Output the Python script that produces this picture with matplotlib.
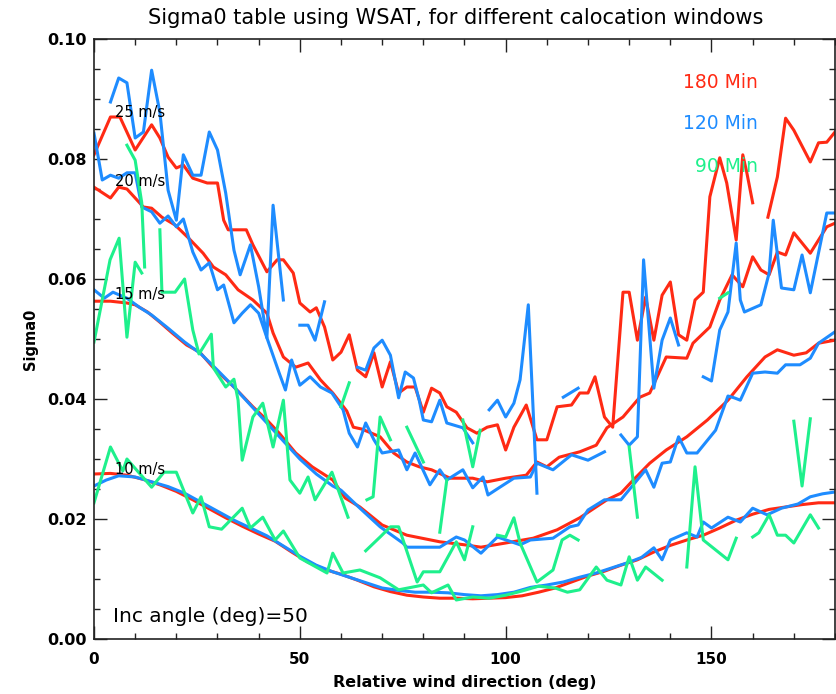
import numpy as np
import matplotlib
matplotlib.use('Agg')
import matplotlib.pyplot as plt
from matplotlib.ticker import MultipleLocator, FormatStrFormatter

# Sigma0 values in units of 1e-3 as (deg, value) points
# None = gap in the line

# ---------------- 180 Min (red) ----------------
red10 = [(0,27.5),(4,27.6),(8,27.3),(12,26.6),(16,25.7),(20,24.6),(24,23.2),(28,21.7),(32,20.2),(36,18.8),
         (40,17.5),(44,16.3),(48,14.5),(52,12.8),(56,11.6),(60,10.8),(64,9.8),(68,8.7),(72,7.9),(76,7.3),
         (80,7.0),(84,6.8),(88,6.8),(92,6.7),(96,6.8),(100,6.9),(104,7.2),(108,7.8),(112,8.5),(116,9.5),
         (120,10.5),(124,11.3),(128,12.3),(132,13.2),(136,14.5),(140,15.6),(144,16.5),(148,17.3),(152,18.5),
         (156,19.8),(160,20.8),(164,21.6),(168,22.0),(172,22.4),(176,22.7),(180,22.7)]
red15 = [(0,56.3),(4,56.3),(8,56.0),(10,55.7),(13,54.5),(16,52.8),(19,51.0),(22.5,49.0),(25.7,47.8),(29,45.2),
         (34,42.0),(38.6,38.7),(42,36.5),(45,34.3),(49,31.0),(53,28.7),(58,26.5),(61,23.5),(64.6,22.0),(70,19.0),
         (76,17.3),(84,16.2),(90,15.7),(94,15.3),(100,16.0),(106.7,16.8),(112.5,18.2),(118,20.2),(124.6,23.2),
         (128,24.3),(131,26.5),(135,29.3),(139,31.5),(144,33.7),(149,36.5),(154,39.8),(158.6,43.7),(163,47.0),
         (166,48.2),(170,47.3),(173,47.7),(176,49.3),(180,49.8)]
red20 = [(0,75.3),(4,73.5),(6,75.3),(8,75.0),(12,72.0),(14,71.8),(16.5,70.3),(19.7,69.0),(23,66.8),(26.5,64.3),
         (29,62.0),(32,60.7),(35,58.2),(38.6,56.5),(42,54.3),(43.5,51.0),(46,47.0),(49,45.3),(52,46.0),(55,43.2),
         (58,41.0),(61.4,38.0),(63,35.3),(65,35.0),(69.5,33.7),(72.8,31.0),(76,29.5),(79,28.7),(82,28.2),
         (86.5,26.8),(92,26.8),(95.5,26.2),(100,26.8),(105,27.3),(107.6,29.5),(110,28.7),(113,30.3),(118,31.2),
         (122,32.3),(124.6,35.2),(128.5,37.0),(132.6,40.3),(135,41.0),(139,47.0),(144,46.8),(145.5,49.3),
         (149.6,52.0),(152,56.5),(155,60.7),(157.6,58.7),(160,63.7),(162,61.5),(164,60.7),(166,64.5),(168,64.0),
         (170,67.7),(174,64.3),(178,68.7),(180,69.3)]
red25 = [(0,80.7),(4,87.0),(6.3,87.0),(10,81.5),(14,85.7),(16,83.5),(18,80.3),(20,78.5),(21.7,79.0),(24,76.8),
         (27.5,76.0),(30,76.0),(31.5,69.8),(32.6,68.2),(37,68.2),(38.6,65.7),(42,61.2),(44.5,63.2),(46,63.2),
         (48.4,61.0),(50,56.0),(52.5,54.5),(54,55.2),(56,52.0),(58,46.5),(60,47.8),(62,50.7),(64,44.8),(66,43.7),
         (68,47.7),(70,42.0),(72,46.2),(74,41.0),(76,42.0),(78,42.0),(80,37.8),(82,41.8),(84,41.0),(85.7,38.7),
         (88,37.8),(90.6,35.2),(93,34.3),(95.5,35.3),(98,35.7),(100,31.5),(102,35.3),(105,39.0),(107.6,33.2),
         (110,33.2),(112.5,38.7),(116,39.0),(118,41.0),(120,41.0),(121.7,43.7),(124,37.0),(126,35.3),(128.5,57.8),
         (130,57.8),(132,49.8),(134,57.0),(136,49.8),(138,57.3),(140,59.5),(142,50.7),(144,49.8),(146,56.5),
         (148,57.8),(149.6,73.7),(152,80.2),(153.7,76.0),(156,66.5),(157.6,80.7),(158.5,78.0),(160,72.7),None,
         (163.7,70.3),(166,77.0),(168,86.8),(170,84.8),(174,79.5),(176,82.7),(178,82.8),(180,84.5)]

# ---------------- 120 Min (blue) ----------------
blue10 = [(0,25.5),(3,26.5),(6,27.2),(10,27.0),(14,26.2),(18,25.4),(22,24.3),(26,22.8),(30,21.3),(34,19.8),
          (38,18.5),(42,17.2),(46,15.5),(50,13.8),(54,12.3),(58,11.2),(62,10.3),(66,9.4),(70,8.5),(74,8.1),
          (78,7.8),(82,7.8),(86,7.7),(90,7.4),(94,7.2),(98,7.4),(102,7.8),(106,8.6),(110,9.0),(114,9.5),
          (118,10.3),(122,11.0),(126,11.9),(130,12.8),(133,13.6),(136,15.2),(138,13.2),(140,16.5),(144,17.7),
          (146.5,17.0),(148,19.5),(150,18.5),(154,20.3),(157,19.5),(160,21.8),(163.5,20.7),(167,21.8),(171,22.5),
          (174,23.7),(177,24.2),(180,24.5)]
blue15 = [(0,58.2),(2.5,56.8),(4.6,57.8),(8,56.8),(11,55.3),(14,54.0),(18,51.8),(22,49.5),(26,47.5),(30,44.8),
          (34,42.0),(38,39.0),(42,36.0),(46,33.0),(50,30.0),(54,27.5),(58,25.5),(60,24.8),(64.6,21.8),(69.5,18.7),
          (75,16.0),(76,15.3),(84,15.3),(88,17.0),(90,16.5),(94,14.3),(98,17.0),(103.5,15.7),(106,16.5),
          (111.5,16.8),(115.6,18.7),(117.6,19.0),(120,21.5),(124,23.2),(128,23.2),(131,25.7),(134,28.2),
          (136,25.3),(138,29.3),(140,29.5),(142,33.7),(144,31.0),(146.5,31.0),(151,34.8),(154,40.5),(155.5,40.2),
          (157,39.8),(160,44.3),(163,44.5),(166,44.3),(168,45.7),(171.5,45.7),(174,46.8),(176,49.3),(180,51.2)]
blue20 = [(0,84.3),(2,76.5),(4,77.3),(6,76.8),(8,77.7),(10,77.7),(11.6,72.0),(14,71.2),(16,69.3),(18,70.5),
          (20,68.7),(21.7,70.0),(24,64.5),(26,61.5),(28,62.7),(30,58.2),(31.5,59.0),(34,52.7),(36,54.3),(38,55.7),
          (40,54.3),(42,50.2),(45,44.3),(46.5,41.5),(48,46.5),(50,42.3),(52.5,43.7),(55,42.0),(57.8,41.0),
          (60.5,38.2),(62,34.3),(64,32.0),(66,36.0),(68,33.2),(70,31.0),(74,31.5),(76,28.2),(78,31.0),(81.6,25.7),
          (84,28.2),(85.7,26.5),(89.6,28.2),(92,25.2),(94.5,27.0),(95.7,24.0),(98.6,25.3),(102,26.8),(106,27.0),
          (107.6,29.3),(111.5,28.2),(116,30.7),(120,29.8),(124,31.2),None,(128,34.0),(130,32.3),(132,33.7),
          (133.5,63.2),(136,41.8),(138,49.8),(140,53.5),(142,49.0),None,(148,43.7),(150,43.0),(152,51.5),
          (154,54.5),(156,66.0),(157,56.5),(158,54.5),(162,55.7),(164,61.0),(165,69.8),(167,58.5),(170,58.2),
          (172,64.0),(174,57.7),(178,71.0),(180,71.0)]
blue25 = [(4,89.5),(6,93.5),(8,92.7),(10,83.5),(12,84.5),(14,94.8),(16,87.8),(18,74.8),(20,69.8),(21.7,80.7),
          (24,77.3),(26,77.3),(28,84.5),(30,81.5),(32,74.3),(34,64.8),(35.5,60.7),(38,65.7),(40,58.7),(42,50.2),
          (43.5,72.3),(46,56.5),None,(50,52.3),(52,52.3),(53.7,49.8),(56,56.2),None,(64,45.3),(66,44.8),(68,48.5),
          (70,49.8),(72,47.3),(74,40.2),(75.6,44.5),(77.6,43.5),(79,39.8),(80,36.5),(82,36.2),(84,39.8),(85.7,36.0),
          (89.6,35.2),(92,32.7),None,(96,38.2),(98,39.8),(100,37.0),(102,39.3),(103.5,43.2),(105.5,55.7),
          (107.6,24.3),None,(114,40.3),(117.6,41.8)]

# ---------------- 90 Min (green) ----------------
green10 = [(0,22.7),(4,32.0),(7,28.0),(8,30.0),(14,25.3),(17,27.8),(20,27.8),(24,21.0),(26,23.7),(28,18.7),
           (31,18.3),(36,21.8),(38,18.5),(41,20.3),(44,16.5),(46,18.0),(50,13.5),(56.6,11.0),(58,14.3),(60.5,11.0),
           (64.6,11.5),(69.5,10.2),(74,8.2),(80,9.0),(82,7.7),(86,9.0),(88,6.5),(92,7.0),(96,6.8),(100,7.3),
           (104,8.0),(108,8.8),(112,8.5),(115,7.8),(118,8.2),(122,12.0),(124.6,9.8),(128,9.0),(130,13.7),
           (132,9.8),(134,12.0),(138,9.8),None,(144,12.0),(146,28.7),(148,16.5),(154,13.2),(156,16.8),None,
           (160,17.0),(161.5,17.7),(164,20.7),(166,17.3),(168,17.3),(170,16.0),(174,20.7),(176,18.5)]
green15 = [(0,49.5),(3.9,63.2),(6.1,66.8),(8,50.3),(10,62.8),(11.6,61.0),None,(16,68.2),(16.5,57.8),(19.7,57.8),
           (22,60.0),(24,51.5),(25.5,47.5),(28.5,50.8),(29,45.2),(32,42.0),(34,43.3),(35,39.8),(36,29.8),
           (38.6,37.0),(41,39.3),(43.5,32.0),(46,39.8),(47.6,26.5),(50,24.3),(52,27.0),(53.7,23.2),(57.8,27.8),
           (61.7,20.3),None,(66,14.7),(69.5,17.0),(72,18.7),(74,18.7),(78.5,9.5),(80,11.2),(84,11.2),(88,16.2),
           (90,13.2),(92,18.7),None,(98,17.3),(100,17.0),(102,20.2),(103.5,16.0),(107.6,9.5),(111.5,11.5),
           (113.7,16.5),(115.6,17.3),(117.6,16.5),None,(130,32.0),(132,20.3),None,(170,36.3),(172,25.5),(174,36.7)]
green20 = [(8,82.3),(10,79.8),(11.6,72.7),(12.3,62.0),None,(60,38.7),(62,42.7),None,(66.3,23.2),(67.8,23.7),
           (69.5,37.0),(72,33.2),None,(76,35.3),(80,29.5),None,(84,17.8),(85.7,26.5),None,(89.6,36.5),(92,28.7),
           (93.8,34.8),None,(152,56.8),(154,57.7)]

speed_labels = ['25 m/s', '20 m/s', '15 m/s', '10 m/s']
speed_label_y = [0.0878, 0.0763, 0.0575, 0.0282]
window_labels = ['180 Min', '120 Min', '90 Min']
window_label_y = [0.0928, 0.0860, 0.0787]

RED = '#ff2a14'
BLUE = '#1e8cff'
GREEN = '#1ef08c'


def xy(points):
    x = [np.nan if p is None else p[0] for p in points]
    y = [np.nan if p is None else p[1] / 1000.0 for p in points]
    return np.array(x), np.array(y)


fig = plt.figure(figsize=(8.37, 6.94), dpi=100)
ax = fig.add_axes([94/837, 1-639/694, 741/837, 600/694])

for s in [red10, red15, red20, red25]:
    ax.plot(*xy(s), color=RED, lw=2.2)
for s in [blue10, blue15, blue20, blue25]:
    ax.plot(*xy(s), color=BLUE, lw=2.2)
for s in [green10, green15, green20]:
    ax.plot(*xy(s), color=GREEN, lw=2.2)

ax.set_xlim(0, 180)
ax.set_ylim(0, 0.10)
ax.xaxis.set_major_locator(MultipleLocator(50))
ax.xaxis.set_minor_locator(MultipleLocator(10))
ax.yaxis.set_major_locator(MultipleLocator(0.02))
ax.yaxis.set_minor_locator(MultipleLocator(0.005))
ax.yaxis.set_major_formatter(FormatStrFormatter('%.2f'))
ax.tick_params(which='both', direction='in', top=True, right=True, width=1.0, color='#222222')
ax.tick_params(which='major', length=9.5)
ax.tick_params(which='minor', length=4.5)
ax.tick_params(axis='x', pad=9, labelsize=11)
ax.tick_params(axis='y', pad=5, labelsize=11.5)
for lab in ax.get_xticklabels() + ax.get_yticklabels():
    lab.set_fontweight('bold')
for sp in ax.spines.values():
    sp.set_linewidth(1.2)
    sp.set_color('#222222')

ax.set_xlabel('Relative wind direction (deg)', fontsize=11.5, fontweight='bold')
ax.xaxis.set_label_coords(0.5, -0.06)
ax.set_ylabel('Sigma0', fontsize=10.5, fontweight='bold')
ax.yaxis.set_label_coords(-0.076, 0.5)
fig.text(0.544, 0.974, 'Sigma0 table using WSAT, for different calocation windows',
         ha='center', va='center', fontsize=15)

for lab, yv in zip(speed_labels, speed_label_y):
    ax.text(5.1, yv, lab, fontsize=10.5, va='center', ha='left')
for lab, yv, c in zip(window_labels, window_label_y, [RED, BLUE, GREEN]):
    ax.text(161.3, yv, lab, fontsize=13.5, va='center', ha='right', color=c)
ax.text(4.6, 0.0038, 'Inc angle (deg)=50', fontsize=14.5, va='center', ha='left')

plt.savefig('out.png', dpi=100)
